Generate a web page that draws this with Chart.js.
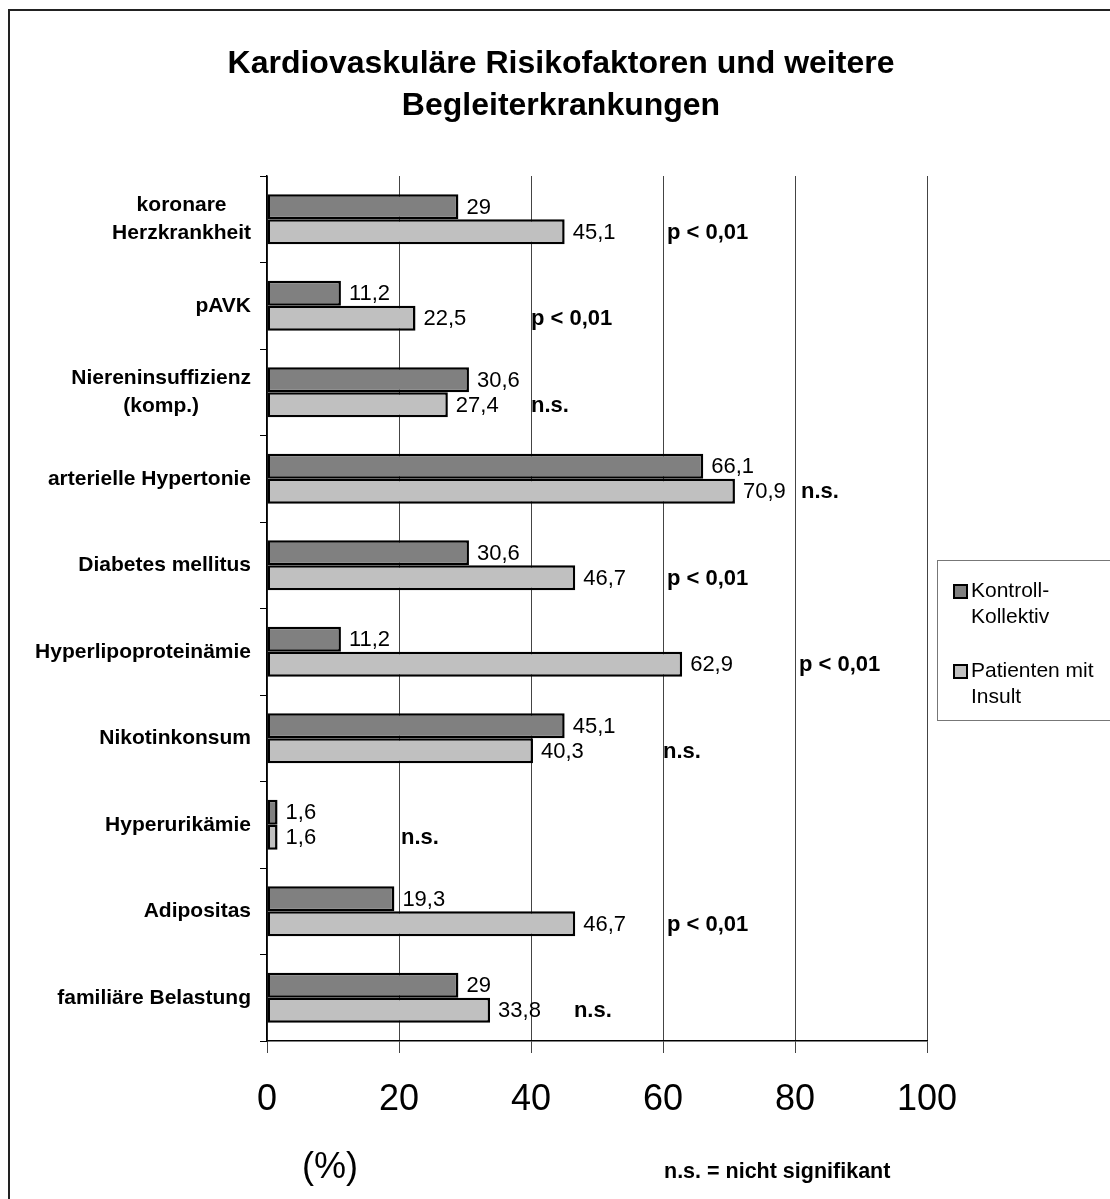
<!DOCTYPE html>
<html lang="de">
<head>
<meta charset="utf-8">
<title>Kardiovaskuläre Risikofaktoren und weitere Begleiterkrankungen</title>
<script src="https://cdn.jsdelivr.net/npm/chart.js@4/dist/chart.umd.min.js"></script>
<style>
  html, body { margin: 0; padding: 0; background: #fff; }
  canvas { display: block; }
</style>
</head>
<body>
<canvas id="chart" width="1110" height="1199"></canvas>
<script>
// Categories (top to bottom), multi-line where the label wraps
const categories = [
  ['koronare', 'Herzkrankheit'],
  ['pAVK'],
  ['Niereninsuffizienz', '(komp.)'],
  ['arterielle Hypertonie'],
  ['Diabetes mellitus'],
  ['Hyperlipoproteinämie'],
  ['Nikotinkonsum'],
  ['Hyperurikämie'],
  ['Adipositas'],
  ['familiäre Belastung']
];

// Prevalence in percent
const kontrollKollektiv = [29, 11.2, 30.6, 66.1, 30.6, 11.2, 45.1, 1.6, 19.3, 29];
const patientenMitInsult = [45.1, 22.5, 27.4, 70.9, 46.7, 62.9, 40.3, 1.6, 46.7, 33.8];

// Significance per category and where (in % units) its note starts
const significance = ['p < 0,01', 'p < 0,01', 'n.s.', 'n.s.', 'p < 0,01', 'p < 0,01', 'n.s.', 'n.s.', 'p < 0,01', 'n.s.'];
const significanceAt = [60.6, 40, 40, 80.9, 60.6, 80.6, 60, 20.3, 60.6, 46.5];

// Axis ticks
const xTicks = [0, 20, 40, 60, 80, 100];

// Series names and their wrapped legend lines
const seriesNames = ['Kontroll-Kollektiv', 'Patienten mit Insult'];
const legendLines = [['Kontroll-', 'Kollektiv'], ['Patienten mit', 'Insult']];

const FONT = "'Liberation Sans', Arial, Helvetica, sans-serif";
const COLORS = ['#808080', '#c0c0c0'];

const fmt = v => String(v).replace('.', ',');

const decorations = {
  id: 'decorations',
  beforeDraw(chart) {
    const ctx = chart.ctx;
    ctx.save();
    ctx.fillStyle = '#fff';
    ctx.fillRect(0, 0, chart.width, chart.height);
    // outer frame
    ctx.strokeStyle = '#222';
    ctx.lineWidth = 2;
    ctx.strokeRect(9, 10, chart.width + 20, chart.height + 20);
    ctx.restore();
  },
  afterDraw(chart) {
    const ctx = chart.ctx;
    const xs = chart.scales.x;
    const ys = chart.scales.y;
    ctx.save();
    ctx.fillStyle = '#000';

    // Title
    ctx.font = `bold 32px ${FONT}`;
    ctx.textAlign = 'center';
    ctx.textBaseline = 'alphabetic';
    ctx.fillText('Kardiovaskuläre Risikofaktoren und weitere', 561, 73);
    ctx.fillText('Begleiterkrankungen', 561, 115);

    // Category labels: block right-aligned, lines centered within block
    ctx.font = `bold 21px ${FONT}`;
    ctx.textBaseline = 'middle';
    categories.forEach((lines, i) => {
      const cy = ys.getPixelForValue(i);
      const w = Math.max(...lines.map(l => ctx.measureText(l).width));
      const cx = 251 - w / 2;
      const lh = 28;
      lines.forEach((l, k) => {
        ctx.fillText(l, cx, cy + (k - (lines.length - 1) / 2) * lh);
      });
    });

    // Value labels at the end of each bar
    ctx.font = `22px ${FONT}`;
    ctx.textAlign = 'left';
    chart.data.datasets.forEach((ds, di) => {
      chart.getDatasetMeta(di).data.forEach((bar, i) => {
        ctx.fillText(fmt(ds.data[i]), bar.x + 8, bar.y + 1);
      });
    });

    // Significance notes next to the patient bars
    ctx.font = `bold 22px ${FONT}`;
    const meta = chart.getDatasetMeta(1);
    significance.forEach((s, i) => {
      ctx.fillText(s, xs.getPixelForValue(significanceAt[i]), meta.data[i].y + 1);
    });

    // Axis unit and footnote
    ctx.font = `36px ${FONT}`;
    ctx.textAlign = 'center';
    ctx.fillText('(%)', 330, 1168);
    ctx.font = `bold 21.5px ${FONT}`;
    ctx.textAlign = 'left';
    ctx.fillText('n.s. = nicht signifikant', 664, 1172);

    // Legend
    ctx.strokeStyle = '#777';
    ctx.lineWidth = 1;
    ctx.strokeRect(937.5, 560.5, 200, 160);
    const rows = [[591, 617], [671, 697]];
    legendLines.forEach((lines, k) => {
      const y0 = rows[k][0];
      ctx.fillStyle = COLORS[k];
      ctx.fillRect(954, y0 - 6, 13, 13);
      ctx.strokeStyle = '#000';
      ctx.lineWidth = 2;
      ctx.strokeRect(954, y0 - 6, 13, 13);
      ctx.fillStyle = '#000';
      ctx.font = `21px ${FONT}`;
      ctx.textAlign = 'left';
      lines.forEach((l, j) => ctx.fillText(l, 971, rows[k][j]));
    });
    ctx.restore();
  }
};

new Chart(document.getElementById('chart'), {
  type: 'bar',
  data: {
    labels: categories.map(c => c.join(' ')),
    datasets: [
      {
        label: seriesNames[0],
        data: kontrollKollektiv,
        backgroundColor: COLORS[0],
        borderColor: '#000',
        borderWidth: 2.5,
        borderSkipped: false,
        categoryPercentage: 0.578,
        barPercentage: 1
      },
      {
        label: seriesNames[1],
        data: patientenMitInsult,
        backgroundColor: COLORS[1],
        borderColor: '#000',
        borderWidth: 2.5,
        borderSkipped: false,
        categoryPercentage: 0.578,
        barPercentage: 1
      }
    ]
  },
  options: {
    indexAxis: 'y',
    responsive: false,
    animation: false,
    devicePixelRatio: 1,
    layout: { padding: { left: 0, right: 183, top: 176, bottom: 0 } },
    plugins: {
      legend: { display: false },
      tooltip: { enabled: false },
      title: { display: false }
    },
    scales: {
      x: {
        type: 'linear',
        min: xTicks[0],
        max: xTicks[xTicks.length - 1],
        afterBuildTicks: s => { s.ticks = xTicks.map(v => ({ value: v })); },
        ticks: {
          color: '#000',
          font: { family: FONT, size: 36 },
          padding: 25,
          maxRotation: 0
        },
        grid: {
          color: '#444',
          lineWidth: 1,
          tickLength: 12,
          tickColor: '#444'
        },
        border: { display: true, color: '#000', width: 1.5 },
        afterFit: s => { s.height = 158; }
      },
      y: {
        type: 'category',
        offset: true,
        ticks: { display: false },
        grid: {
          offset: true,
          drawOnChartArea: false,
          drawTicks: true,
          tickLength: 7,
          color: '#000',
          lineWidth: 1
        },
        border: { display: true, color: '#000', width: 1.5 },
        afterFit: s => { s.width = 267; }
      }
    }
  },
  plugins: [decorations]
});
</script>
</body>
</html>
